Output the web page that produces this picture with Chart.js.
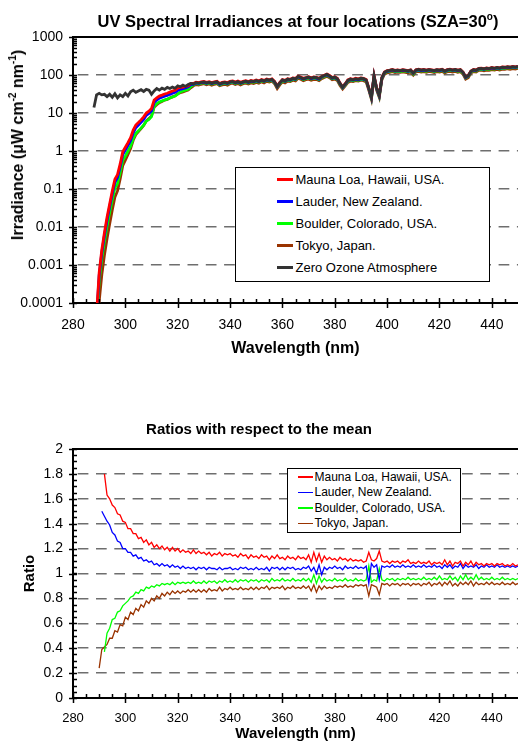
<!DOCTYPE html>
<html>
<head>
<meta charset="utf-8">
<title>UV Spectral Irradiances</title>
<script src="https://cdn.jsdelivr.net/npm/chart.js@4.4.1/dist/chart.umd.min.js"></script>
<style>
  html, body { margin: 0; padding: 0; background: #fff; }
  body { position: relative; width: 518px; height: 742px; overflow: hidden;
         font-family: "Liberation Sans", Arial, sans-serif; color: #000; }
  canvas { position: absolute; left: 0; }
  #irrChart { top: 0; }
  #ratioChart { top: 415px; }
  .label { position: absolute; font-weight: bold; white-space: nowrap; transform: translate(-50%, -50%); }
  .label sup { font-size: 10px; vertical-align: 7px; line-height: 0; }
  .legend { position: absolute; box-sizing: border-box; border: 1.5px solid #000; background: #fff; }
  .legend .row { display: flex; align-items: center; white-space: nowrap; }
  .legend .swatch { flex: none; display: block; }
</style>
</head>
<body>
<canvas id="irrChart" width="518" height="360"></canvas>
<canvas id="ratioChart" width="518" height="330"></canvas>
<div class="label" style="left:298px;top:21px;font-size:16.5px">UV Spectral Irradiances at four locations (SZA=30<sup>o</sup>)</div>
<div class="label" style="left:18px;top:145px;font-size:16px;transform:translate(-50%,-50%) rotate(-90deg)">Irradiance (μW cm<sup>-2</sup> nm<sup>-1</sup>)</div>
<div class="legend" id="irrLegend" style="left:235px;top:167px;width:255px;height:115px;padding-top:0.5px;font-size:13px"></div>
<div class="legend" id="ratioLegend" style="left:287px;top:468px;width:174px;height:65px;font-size:12px"></div>
<script>
// ---- data -----------------------------------------------------------
// top chart: irradiance, 1 nm steps from 288 to 450 nm
const irrStart = 288, irrEnd = 450;
// bottom chart: ratio to the mean, 1 nm steps from 290 to 450 nm
const ratioStart = 290, ratioEnd = 450;

const locationNames = ['Mauna Loa, Hawaii, USA.', 'Lauder, New Zealand.', 'Boulder, Colorado, USA.', 'Tokyo, Japan.'];
const locationColors = ['#ff0000', '#0000ff', '#00ff00', '#993300'];
const zeroOzoneName = 'Zero Ozone Atmosphere';
const zeroOzoneColor = '#333333';

const wlTicks = [280, 300, 320, 340, 360, 380, 400, 420, 440];
const irrTicks = [0.0001, 0.001, 0.01, 0.1, 1, 10, 100, 1000];
const irrTickLabels = ['0.0001', '0.001', '0.01', '0.1', '1', '10', '100', '1000'];
const ratioTicks = [0, 0.2, 0.4, 0.6, 0.8, 1, 1.2, 1.4, 1.6, 1.8, 2];
const ratioTickLabels = ['0', '0.2', '0.4', '0.6', '0.8', '1', '1.2', '1.4', '1.6', '1.8', '2'];

const irrZeroOzone = [
  14, 30, 33, 30, 31, 27, 31, 26, 32, 25,
  30, 27, 33, 28, 36, 40, 35, 38, 41, 37,
  42, 40, 31, 38, 44, 40, 45, 42, 47, 44,
  48, 45, 52, 49, 54, 50, 56, 60, 58, 63,
  61, 64, 66, 62, 65, 61, 64, 66, 58, 62,
  64, 61, 66, 68, 63, 67, 62, 66, 69, 65,
  70, 67, 72, 68, 74, 70, 76, 73, 77, 66,
  50, 62, 74, 70, 78, 75, 82, 79, 92, 86,
  80, 84, 88, 82, 87, 85, 80, 90, 97, 104,
  95, 84, 88, 80, 60, 48, 58, 72, 78, 75,
  80, 77, 82, 80, 74, 45, 26, 95, 45, 29,
  85, 118, 128, 132, 137, 130, 134, 131, 136, 133,
  128, 135, 112, 136, 140, 134, 138, 133, 139, 135,
  130, 137, 134, 140, 127, 137, 141, 135, 139, 132,
  137, 118, 88, 96, 126, 138, 134, 148, 150, 145,
  152, 148, 155, 150, 157, 152, 160, 158, 164, 160,
  166, 162, 168
];
const irrMaunaLoa = [
  null, 0.00005, 0.00063, 0.0025, 0.0071, 0.018, 0.04, 0.089, 0.18, 0.24,
  0.45, 0.95, 1.25, 1.66, 2.24, 3.55, 4.8, 5.6, 6.6, 7.9,
  10, 11.2, 13.2, 22, 25, 28, 29.5, 31.6, 33, 35.5,
  38, 40, 45, 47, 48, 50, 52, 60, 60, 65,
  63, 66, 68, 64, 67, 63, 66, 68, 60, 64,
  66, 63, 68, 70, 65, 69, 64, 68, 71, 67,
  72, 69, 74, 70, 76, 72, 78, 75, 79, 68,
  51, 64, 76, 72, 80, 77, 84, 81, 94, 88,
  82, 86, 90, 84, 89, 87, 82, 92, 99, 106,
  97, 86, 90, 82, 61, 49, 59, 74, 80, 77,
  82, 79, 84, 82, 76, 46, 27, 97, 46, 30,
  87, 120, 130, 134, 139, 132, 136, 133, 138, 135,
  130, 137, 114, 138, 142, 136, 140, 135, 141, 137,
  132, 139, 136, 142, 129, 139, 143, 137, 141, 134,
  139, 120, 89, 97, 128, 140, 136, 150, 152, 147,
  154, 150, 157, 152, 159, 154, 162, 160, 166, 162,
  168, 164, 170
];
const irrLauder = [
  null, 0.00004, 0.00053, 0.0021, 0.006, 0.015, 0.034, 0.075, 0.15, 0.2,
  0.38, 0.8, 1.06, 1.42, 1.9, 3.0, 4.1, 4.8, 5.7, 6.8,
  8.7, 9.7, 11.5, 19, 22, 24.5, 26, 27.6, 29, 31,
  33, 35, 39.4, 42, 44, 46, 49, 56, 57, 62,
  60, 63, 65, 61, 64, 60, 63, 65, 57, 61,
  63, 60, 65, 67, 62, 66, 61, 65, 68, 64,
  69, 66, 71, 67, 73, 69, 74, 72, 75, 65,
  49, 61, 73, 69, 76, 74, 80, 77, 90, 84,
  78, 82, 86, 80, 85, 83, 78, 88, 95, 102,
  93, 82, 86, 78, 59, 47, 57, 71, 76, 74,
  78, 75, 80, 78, 73, 44, 25.5, 93, 44, 28.4,
  83, 116, 125, 129, 134, 127, 131, 128, 133, 130,
  125, 132, 110, 133, 137, 131, 135, 130, 136, 132,
  127, 134, 131, 137, 124, 134, 138, 132, 136, 129,
  134, 116, 86, 94, 123, 135, 131, 145, 147, 142,
  149, 145, 152, 147, 154, 149, 157, 155, 161, 157,
  163, 159, 165
];
const irrBoulder = [
  null, 0.000028, 0.00037, 0.0015, 0.0042, 0.0105, 0.024, 0.052, 0.105, 0.14,
  0.27, 0.56, 0.74, 1.0, 1.33, 2.1, 2.9, 3.4, 4.0, 4.8,
  6.1, 6.8, 8.1, 15, 17.6, 19.6, 20.8, 22, 23.2, 24.8,
  26.4, 28, 31.5, 36, 38, 40, 42, 50, 55, 60,
  58, 61, 63, 59, 62, 58, 61, 63, 55, 59,
  61, 58, 63, 65, 60, 64, 59, 63, 66, 62,
  67, 64, 68, 65, 70, 67, 72, 69, 73, 63,
  48, 59, 70, 67, 74, 71, 78, 75, 87, 82,
  76, 80, 84, 78, 83, 81, 76, 86, 92, 99,
  90, 80, 84, 76, 57, 46, 55, 68, 74, 71,
  76, 73, 78, 76, 70, 43, 24.7, 90, 43, 27.6,
  81, 112, 122, 125, 130, 124, 127, 124, 129, 126,
  122, 128, 106, 129, 133, 127, 131, 126, 132, 128,
  124, 130, 127, 133, 121, 130, 134, 128, 132, 125,
  130, 112, 84, 91, 120, 131, 127, 141, 143, 138,
  144, 141, 147, 143, 149, 144, 152, 150, 156, 152,
  158, 154, 160
];
const irrTokyo = [
  null, 0.0000075, 0.00011, 0.00055, 0.0018, 0.0049, 0.012, 0.028, 0.061, 0.089,
  0.18, 0.41, 0.57, 0.81, 1.16, 1.92, 2.7, 3.25, 3.9, 4.7,
  6.2, 7.1, 8.4, 14.3, 16.5, 18.8, 20, 21.8, 22.8, 24.9,
  26.6, 28.4, 32, 34, 36, 38, 40, 46, 52, 56,
  54, 57, 59, 55, 58, 54, 57, 59, 52, 55,
  57, 54, 59, 61, 56, 60, 55, 59, 61, 58,
  62, 60, 64, 61, 66, 62, 68, 65, 69, 59,
  44, 55, 66, 62, 69, 67, 73, 70, 82, 77,
  71, 75, 78, 73, 77, 76, 71, 80, 86, 93,
  85, 75, 78, 71, 53, 43, 52, 64, 69, 67,
  71, 69, 73, 71, 66, 40, 23, 85, 40, 25.8,
  76, 105, 114, 117, 122, 116, 119, 117, 121, 118,
  114, 120, 100, 121, 125, 119, 123, 118, 124, 120,
  116, 122, 119, 125, 113, 122, 125, 120, 124, 117,
  122, 105, 78, 85, 112, 123, 119, 132, 134, 129,
  135, 132, 138, 134, 140, 135, 142, 141, 146, 142,
  148, 144, 150
];

const ratioMaunaLoa = [
  null, null, 1.80, 1.63, 1.60, 1.55, 1.53, 1.48, 1.47, 1.42,
  1.41, 1.36, 1.36, 1.32, 1.32, 1.28, 1.29, 1.25, 1.27, 1.23,
  1.25, 1.21, 1.23, 1.20, 1.22, 1.19, 1.21, 1.18, 1.21, 1.18,
  1.20, 1.17, 1.19, 1.17, 1.18, 1.16, 1.19, 1.16, 1.18, 1.16,
  1.17, 1.15, 1.17, 1.14, 1.16, 1.15, 1.17, 1.14, 1.16, 1.15,
  1.16, 1.14, 1.15, 1.13, 1.16, 1.14, 1.15, 1.12, 1.15, 1.13,
  1.14, 1.12, 1.15, 1.13, 1.14, 1.11, 1.14, 1.12, 1.15, 1.12,
  1.13, 1.11, 1.14, 1.12, 1.13, 1.11, 1.14, 1.12, 1.13, 1.11,
  1.15, 1.09, 1.17, 1.10, 1.16, 1.09, 1.14, 1.11, 1.13, 1.11,
  1.12, 1.10, 1.13, 1.11, 1.12, 1.10, 1.12, 1.10, 1.11, 1.10,
  1.11, 1.09, 1.10, 1.17, 1.11, 1.10, 1.12, 1.18, 1.10, 1.09,
  1.10, 1.08, 1.10, 1.09, 1.10, 1.08, 1.10, 1.09, 1.11, 1.08,
  1.09, 1.08, 1.10, 1.08, 1.09, 1.08, 1.10, 1.07, 1.09, 1.08,
  1.09, 1.07, 1.11, 1.07, 1.10, 1.06, 1.09, 1.08, 1.10, 1.06,
  1.09, 1.07, 1.10, 1.06, 1.09, 1.07, 1.08, 1.06, 1.08, 1.07,
  1.08, 1.06, 1.08, 1.07, 1.08, 1.06, 1.07, 1.06, 1.08, 1.06,
  1.07
];
const ratioLauder = [
  null, 1.50, 1.46, 1.42, 1.39, 1.33, 1.31, 1.26, 1.25, 1.20,
  1.20, 1.17, 1.17, 1.14, 1.15, 1.12, 1.13, 1.10, 1.11, 1.09,
  1.10, 1.07, 1.08, 1.06, 1.08, 1.06, 1.07, 1.05, 1.07, 1.05,
  1.06, 1.04, 1.06, 1.04, 1.05, 1.04, 1.05, 1.03, 1.05, 1.04,
  1.05, 1.03, 1.05, 1.04, 1.04, 1.03, 1.05, 1.03, 1.04, 1.04,
  1.05, 1.03, 1.04, 1.03, 1.05, 1.04, 1.05, 1.03, 1.04, 1.03,
  1.05, 1.03, 1.04, 1.03, 1.05, 1.02, 1.05, 1.04, 1.05, 1.03,
  1.05, 1.03, 1.05, 1.04, 1.05, 1.03, 1.04, 1.03, 1.05, 1.04,
  1.06, 1.02, 1.05, 1.00, 1.07, 0.99, 1.05, 1.03, 1.05, 1.04,
  1.06, 1.04, 1.05, 1.03, 1.06, 1.04, 1.05, 1.04, 1.06, 1.04,
  1.05, 1.04, 1.06, 0.92, 1.08, 1.05, 1.07, 0.95, 1.06, 1.05,
  1.06, 1.05, 1.07, 1.05, 1.06, 1.05, 1.07, 1.05, 1.06, 1.05,
  1.07, 1.05, 1.06, 1.05, 1.07, 1.05, 1.06, 1.05, 1.07, 1.05,
  1.06, 1.04, 1.07, 1.05, 1.07, 1.04, 1.06, 1.05, 1.08, 1.04,
  1.07, 1.05, 1.06, 1.05, 1.07, 1.04, 1.06, 1.05, 1.07, 1.05,
  1.06, 1.05, 1.07, 1.05, 1.06, 1.05, 1.06, 1.05, 1.06, 1.05,
  1.06
];
const ratioBoulder = [
  null, null, 0.37, 0.52, 0.56, 0.63, 0.64, 0.69, 0.70, 0.74,
  0.76, 0.78, 0.81, 0.82, 0.85, 0.84, 0.87, 0.86, 0.89, 0.88,
  0.90, 0.89, 0.91, 0.90, 0.92, 0.91, 0.92, 0.91, 0.93, 0.91,
  0.93, 0.92, 0.93, 0.92, 0.93, 0.92, 0.94, 0.92, 0.93, 0.92,
  0.94, 0.92, 0.94, 0.93, 0.94, 0.92, 0.94, 0.93, 0.95, 0.93,
  0.94, 0.93, 0.95, 0.93, 0.95, 0.94, 0.95, 0.93, 0.95, 0.94,
  0.95, 0.93, 0.95, 0.94, 0.95, 0.93, 0.96, 0.94, 0.95, 0.94,
  0.96, 0.94, 0.95, 0.94, 0.96, 0.94, 0.95, 0.94, 0.96, 0.94,
  0.96, 0.93, 0.99, 0.92, 0.98, 0.93, 0.96, 0.94, 0.95, 0.94,
  0.96, 0.94, 0.95, 0.94, 0.96, 0.94, 0.95, 0.94, 0.96, 0.94,
  0.95, 0.94, 0.95, 1.06, 0.93, 0.95, 0.94, 1.04, 0.95, 0.94,
  0.96, 0.95, 0.96, 0.94, 0.96, 0.95, 0.96, 0.95, 0.97, 0.95,
  0.96, 0.95, 0.96, 0.95, 0.97, 0.95, 0.96, 0.95, 0.97, 0.95,
  0.98, 0.95, 0.96, 0.95, 0.98, 0.95, 0.97, 0.94, 0.98, 0.95,
  0.99, 0.95, 0.97, 0.95, 0.99, 0.95, 0.97, 0.95, 0.96, 0.95,
  0.97, 0.95, 0.96, 0.95, 0.97, 0.95, 0.96, 0.95, 0.96, 0.95,
  0.96
];
const ratioTokyo = [
  0.24, 0.39, 0.41, 0.43, 0.48, 0.48, 0.54, 0.53, 0.59, 0.58,
  0.65, 0.63, 0.69, 0.67, 0.72, 0.70, 0.75, 0.73, 0.78, 0.76,
  0.80, 0.78, 0.82, 0.80, 0.84, 0.82, 0.85, 0.83, 0.86, 0.84,
  0.86, 0.84, 0.86, 0.85, 0.87, 0.85, 0.87, 0.85, 0.87, 0.85,
  0.87, 0.85, 0.88, 0.86, 0.87, 0.86, 0.89, 0.86, 0.88, 0.87,
  0.89, 0.87, 0.88, 0.87, 0.89, 0.87, 0.88, 0.87, 0.89, 0.87,
  0.89, 0.87, 0.89, 0.88, 0.90, 0.87, 0.89, 0.88, 0.89, 0.88,
  0.90, 0.87, 0.89, 0.88, 0.90, 0.88, 0.89, 0.88, 0.90, 0.88,
  0.90, 0.86, 0.91, 0.85, 0.90, 0.87, 0.90, 0.88, 0.89, 0.88,
  0.90, 0.89, 0.90, 0.89, 0.91, 0.89, 0.90, 0.89, 0.91, 0.90,
  0.91, 0.90, 0.91, 0.82, 0.91, 0.90, 0.89, 0.83, 0.92, 0.91,
  0.92, 0.90, 0.92, 0.91, 0.92, 0.90, 0.92, 0.91, 0.92, 0.90,
  0.92, 0.91, 0.92, 0.90, 0.92, 0.91, 0.93, 0.90, 0.92, 0.91,
  0.93, 0.90, 0.93, 0.91, 0.94, 0.90, 0.92, 0.90, 0.93, 0.91,
  0.93, 0.91, 0.94, 0.90, 0.93, 0.91, 0.92, 0.91, 0.93, 0.91,
  0.93, 0.91, 0.92, 0.91, 0.93, 0.91, 0.92, 0.91, 0.93, 0.91,
  0.92
];

// ---- helpers --------------------------------------------------------
const FONT = '"Liberation Sans", Arial, sans-serif';
Chart.defaults.font.family = FONT;
Chart.defaults.color = '#000';

function wavelengths(start, end) {
  const out = [];
  for (let w = start; w <= end; w++) out.push(w);
  return out;
}
function points(xs, ys) {
  const out = [];
  ys.forEach((y, i) => { if (y !== null) out.push({x: xs[i], y: y}); });
  return out;
}
function minorValues(scale, step) {
  const vals = [];
  if (step === 'log') {
    const e0 = Math.round(Math.log10(scale.min)), e1 = Math.round(Math.log10(scale.max));
    for (let e = e0; e < e1; e++) for (let m = 2; m < 10; m++) vals.push(m * Math.pow(10, e));
  } else {
    for (let v = scale.min + step; v < scale.max - 1e-9; v += step) vals.push(v);
  }
  return vals;
}

// top border + crossing major ticks + inside minor ticks, Excel style
const axisMarks = {
  id: 'axisMarks',
  afterDatasetsDraw(chart, args, opts) {
    const {ctx, chartArea: a, scales: {x, y}} = chart;
    ctx.save();
    ctx.strokeStyle = '#000';
    ctx.lineWidth = 2;
    ctx.beginPath();
    ctx.moveTo(a.left - 1, a.top);
    ctx.lineTo(a.right, a.top);
    ctx.stroke();

    ctx.lineWidth = 1.5;
    ctx.beginPath();
    const xMajor = x.ticks.map(t => t.value);
    xMajor.forEach(v => {
      const px = Math.round(x.getPixelForValue(v)) + 0.5;
      ctx.moveTo(px, a.bottom - 5); ctx.lineTo(px, a.bottom + 5);
    });
    minorValues(x, opts.xMinor).forEach(v => {
      if (xMajor.some(m => Math.abs(m - v) < 1e-6)) return;
      const px = Math.round(x.getPixelForValue(v)) + 0.5;
      ctx.moveTo(px, a.bottom); ctx.lineTo(px, a.bottom - 4);
    });
    y.ticks.forEach(t => {
      const py = Math.round(y.getPixelForValue(t.value)) + 0.5;
      ctx.moveTo(a.left - 4, py); ctx.lineTo(a.left + 4, py);
    });
    minorValues(y, opts.yMinor).forEach(v => {
      const py = Math.round(y.getPixelForValue(v)) + 0.5;
      ctx.moveTo(a.left, py); ctx.lineTo(a.left + 4, py);
    });
    ctx.stroke();
    ctx.restore();
  }
};

function wavelengthAxis(tickSize, tickPad, titleSize, axisHeight) {
  return {
    type: 'linear', min: 280, max: 450,
    afterBuildTicks: s => { s.ticks = wlTicks.map(v => ({value: v})); },
    afterFit: s => { s.height = axisHeight; s.paddingLeft = 0; s.paddingRight = 0; },
    grid: {drawOnChartArea: false, drawTicks: false},
    border: {color: '#000', width: 2},
    ticks: {font: {size: tickSize}, padding: tickPad, maxRotation: 0, autoSkip: false, callback: v => String(v)},
    title: {display: true, text: 'Wavelength (nm)', font: {size: titleSize, weight: 'bold'}, padding: {top: 0, bottom: 2}}
  };
}
function dashedGrid(min, max) {
  return {
    color: c => (c.tick && (c.tick.value === min || c.tick.value === max)) ? 'rgba(0,0,0,0)' : '#6e6e6e',
    lineWidth: 1.5,
    drawTicks: false
  };
}

// ---- top chart: irradiance -----------------------------------------
const irrWavelengths = wavelengths(irrStart, irrEnd);
const irrSeries = [irrMaunaLoa, irrLauder, irrBoulder, irrTokyo];
const irrDatasets = irrSeries.map((s, i) => ({
  label: locationNames[i],
  data: points(irrWavelengths, s),
  borderColor: locationColors[i],
  borderWidth: 2.8,
  order: 1
}));
irrDatasets.push({
  label: zeroOzoneName,
  data: points(irrWavelengths, irrZeroOzone),
  borderColor: zeroOzoneColor,
  borderWidth: 2.8,
  order: 0
});

new Chart(document.getElementById('irrChart'), {
  type: 'line',
  data: {datasets: irrDatasets},
  options: {
    responsive: false,
    animation: false,
    events: [],
    layout: {padding: {top: 37, left: 0, right: 0, bottom: 0}},
    elements: {point: {radius: 0}, line: {tension: 0}},
    plugins: {legend: {display: false}, tooltip: {enabled: false}, axisMarks: {xMinor: 5, yMinor: 'log'}},
    scales: {
      x: wavelengthAxis(14, 14, 16, 57),
      y: {
        type: 'logarithmic', min: 0.0001, max: 1000,
        afterBuildTicks: s => { s.ticks = irrTicks.map(v => ({value: v})); },
        afterFit: s => { s.width = 73; s.paddingTop = 0; s.paddingBottom = 0; },
        grid: dashedGrid(0.0001, 1000),
        border: {color: '#000', width: 2, dash: [10.7, 7.6], dashOffset: 14.6},
        ticks: {font: {size: 14}, padding: 10, autoSkip: false, callback: (v, i) => irrTickLabels[i]}
      }
    }
  },
  plugins: [axisMarks]
});

// ---- bottom chart: ratios ------------------------------------------
const ratioWavelengths = wavelengths(ratioStart, ratioEnd);
const ratioSeries = [ratioMaunaLoa, ratioLauder, ratioBoulder, ratioTokyo];

new Chart(document.getElementById('ratioChart'), {
  type: 'line',
  data: {
    datasets: ratioSeries.map((s, i) => ({
      label: locationNames[i],
      data: points(ratioWavelengths, s),
      borderColor: locationColors[i],
      borderWidth: 1.3
    }))
  },
  options: {
    responsive: false,
    animation: false,
    events: [],
    layout: {padding: 0},
    elements: {point: {radius: 0}, line: {tension: 0}},
    plugins: {
      legend: {display: false},
      tooltip: {enabled: false},
      title: {display: true, text: 'Ratios with respect to the mean', font: {size: 15, weight: 'bold'}, color: '#000', padding: {top: 6, bottom: 10}},
      axisMarks: {xMinor: 5, yMinor: 0.05}
    },
    scales: {
      x: wavelengthAxis(13, 12.5, 15, 47),
      y: {
        type: 'linear', min: 0, max: 2,
        afterBuildTicks: s => { s.ticks = ratioTicks.map(v => ({value: v})); },
        afterFit: s => { s.width = 73; s.paddingTop = 0; s.paddingBottom = 0; },
        grid: dashedGrid(0, 2),
        border: {color: '#000', width: 2, dash: [10.7, 7.6], dashOffset: 14.6},
        ticks: {font: {size: 14}, padding: 10, autoSkip: false, callback: (v, i) => ratioTickLabels[i]},
        title: {display: true, text: 'Ratio', font: {size: 15, weight: 'bold'}, padding: {top: 21, bottom: 0}}
      }
    }
  },
  plugins: [axisMarks]
});

// ---- legends (boxed, inside the plot area) --------------------------
function buildLegend(el, items, rowH, sampleLeft, sampleW, sampleH, gap) {
  items.forEach(it => {
    const row = document.createElement('div');
    row.className = 'row';
    row.style.height = rowH + 'px';
    const sw = document.createElement('span');
    sw.className = 'swatch';
    sw.style.cssText = 'margin-left:' + sampleLeft + 'px;width:' + sampleW + 'px;height:' + sampleH +
      'px;margin-right:' + gap + 'px;background:' + it.color;
    const tx = document.createElement('span');
    tx.textContent = it.name;
    row.append(sw, tx);
    el.appendChild(row);
  });
}
const locItems = locationNames.map((n, i) => ({name: n, color: locationColors[i]}));
buildLegend(document.getElementById('irrLegend'), locItems.concat([{name: zeroOzoneName, color: zeroOzoneColor}]), 22.1, 40.5, 16, 3, 3);
buildLegend(document.getElementById('ratioLegend'), locItems, 15.5, 9.5, 15, 1.5, 2);
</script>
</body>
</html>
